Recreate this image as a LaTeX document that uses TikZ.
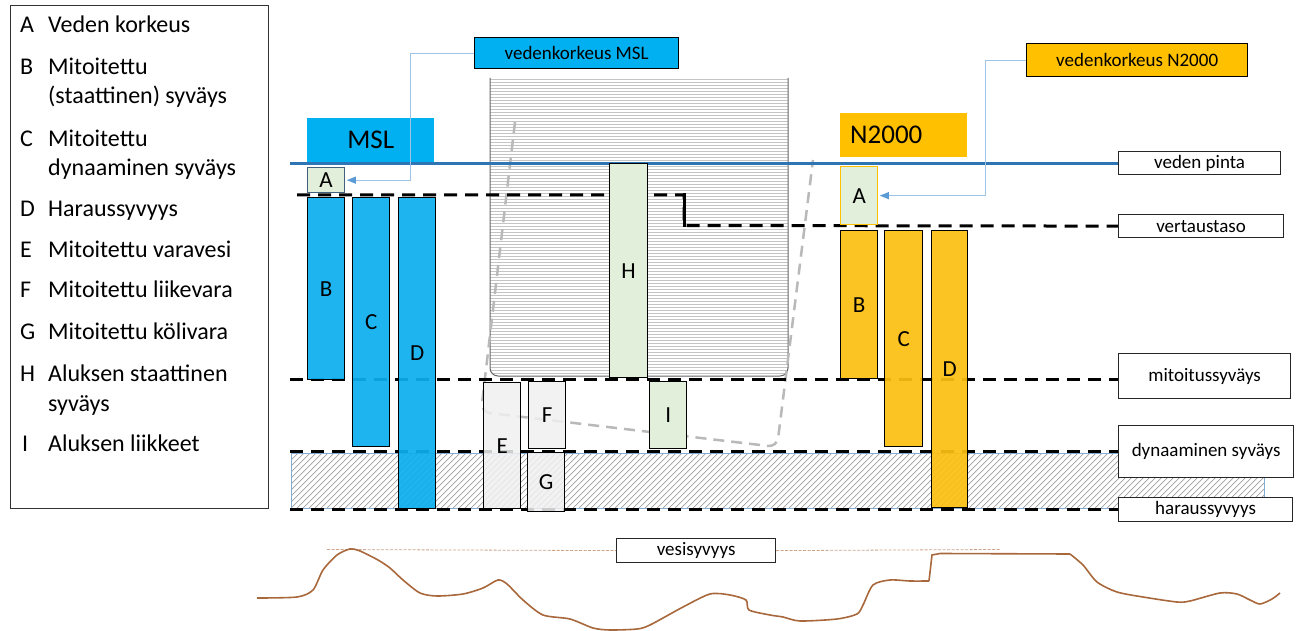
\documentclass[tikz,border=0pt]{standalone}
\usepackage{fontspec}
\setmainfont{Carlito}
\usetikzlibrary{arrows.meta}
\definecolor{mslblue}{HTML}{00B0F0}
\definecolor{mslbar}{HTML}{0CAEEE}
\definecolor{nyellow}{HTML}{FFC000}
\definecolor{nbar}{HTML}{FBBF12}
\definecolor{lgreen}{HTML}{E2EFDA}
\definecolor{waterline}{HTML}{2E75B6}
\definecolor{arrowblue}{HTML}{9DC3E6}
\definecolor{tipblue}{HTML}{5B9BD5}
\definecolor{lgray}{HTML}{F0F0F0}
\definecolor{terrain}{HTML}{A8683C}
\definecolor{aborder}{HTML}{44607F}
\definecolor{hullgray}{HTML}{C4C4C4}
\begin{document}
\begin{tikzpicture}[x=1pt,y=-1pt,
  sz/.style 2 args={minimum width=#1pt, minimum height=#2pt},
  box/.style={draw=black, line width=1.3pt, inner sep=0pt, anchor=north west, font=\fontsize{23}{26}\selectfont},
  mslbarbox/.style={box, fill=mslbar, fill opacity=0.93, text opacity=1},
  nbarbox/.style={box, fill=nbar, fill opacity=0.93, text opacity=1},
  greybox/.style={box, fill=lgray, fill opacity=0.85, text opacity=1},
  greenbox/.style={box, fill=lgreen},
  labelbox/.style={draw=black!85, line width=1.2pt, fill=white, inner sep=0pt, anchor=north west, font=\fontsize{19}{22}\selectfont},
  titlebox/.style={inner sep=0pt, anchor=north west, font=\fontsize{27}{30}\selectfont},
  legtxt/.style={anchor=base west, inner sep=0pt, font=\fontsize{24}{29}\selectfont},
  dline/.style={line width=3pt, dash pattern=on 13pt off 8pt, black},
  callout/.style={arrowblue, line width=1pt, -{Triangle[length=9pt,width=7pt,color=tipblue]}}
]
\useasboundingbox (0,0) rectangle (1296,631);

% ---------- legend ----------
\node[draw=black!80, line width=1.2pt, inner sep=0pt, anchor=north west, sz={258}{503}] (legend) at (10,5) {};
\node[legtxt] (lA) at (20,33) {A};  \node[legtxt] (tA) at (48,33) {Veden korkeus};
\node[legtxt] (lB) at (20,75) {B};  \node[legtxt] (tB1) at (48,75) {Mitoitettu};
\node[legtxt] (tB2) at (48,104) {(staattinen) syväys};
\node[legtxt] (lC) at (20,147) {C};  \node[legtxt] (tC1) at (48,147) {Mitoitettu};
\node[legtxt] (tC2) at (48,176) {dynaaminen syväys};
\node[legtxt] (lD) at (20,217) {D};  \node[legtxt] (tD) at (48,217) {Haraussyvyys};
\node[legtxt] (lE) at (20,258) {E};  \node[legtxt] (tE) at (48,258) {Mitoitettu varavesi};
\node[legtxt] (lF) at (20,298) {F};  \node[legtxt] (tF) at (48,298) {Mitoitettu liikevara};
\node[legtxt] (lG) at (20,339) {G};  \node[legtxt] (tG) at (48,339) {Mitoitettu kölivara};
\node[legtxt] (lH) at (20,381) {H};  \node[legtxt] (tH1) at (48,381) {Aluksen staattinen};
\node[legtxt] (tH2) at (48,411) {syväys};
\node[legtxt] (lI) at (22,451) {I};  \node[legtxt] (tI) at (48,451) {Aluksen liikkeet};

% ---------- hatched band ----------
\begin{scope}
  \clip (291,453) rectangle (1264,508);
  \foreach \i in {0,6,...,1040} {
    \draw[gray!75, line width=0.7pt] (291+\i-60,508) -- (291+\i,448);
  }
\end{scope}
\draw[waterline!60, line width=0.6pt] (291,453) rectangle (1264,508);

% ---------- ship hull ----------
\begin{scope}
  \clip[rounded corners=8pt] (490,70) -- (490,376) -- (788,376) -- (788,70) -- cycle;
  \foreach \y in {79,82,...,376} {
    \draw[hullgray, line width=0.9pt] (490,\y) -- (788,\y);
  }
\end{scope}
\draw[black!60, line width=1pt, rounded corners=8pt] (490,78) -- (490,376) -- (788,376) -- (788,78);
% tilted hull outline
\draw[gray!55, line width=2.5pt, dash pattern=on 11pt off 7pt, rounded corners=9pt]
  (515,122) -- (481,412) -- (777,447) -- (813,160);

% ---------- right labels ----------
\node[labelbox, sz={162}{23}] (vp) at (1118,151) {veden pinta};
\node[labelbox, sz={165}{23}] (vt) at (1118,214) {vertaustaso};
\node[labelbox, sz={172}{45}] (mit) at (1118,353) {mitoitussyväys};
\node[labelbox, sz={175}{52}] (dyn) at (1118,425) {dynaaminen syväys};
\node[labelbox, sz={174}{24}] (har) at (1118,497) {haraussyvyys};

% ---------- water surface and reference lines ----------
\coordinate (wpL) at (290,163.5);
\draw[waterline, line width=2.2pt] (wpL) -- (wpL -| vp.west);
\coordinate (vtL) at (297,195);
\coordinate (vtStep) at (684,195);
\draw[dline] (vtL) -- (vtStep) -- (684,225.5) -- (vt.west);
\draw[line width=3pt] (684,193.5) -- (684,227);
\coordinate (mitL) at (290,379);
\draw[dline] (mitL) -- (mitL -| mit.west);
\coordinate (dynL) at (290,451);
\draw[dline] (dynL) -- (dynL -| dyn.west);
\coordinate (harL) at (290,509);
\draw[dline] (harL) -- (harL -| har.west);

% ---------- MSL ----------
\node[titlebox, fill=mslblue, sz={127}{44}] (msl) at (307,118) {MSL};
\node[box, fill=mslblue, sz={204}{31}, font=\fontsize{19}{22}\selectfont] (vkmsl) at (474,37) {vedenkorkeus MSL};
\node[greenbox, draw=aborder, sz={37}{25}] (amsl) at (307,167) {A};
\node[mslbarbox, sz={37}{182}] (bmsl) at (307,197) {B};
\node[mslbarbox, sz={37}{249}] (cmsl) at (352,197) {C};
\node[mslbarbox, sz={37}{311}] (dmsl) at (398,197) {D};
\draw[callout] (vkmsl.west) -| ([xshift=65pt]amsl.east) -- ([xshift=1.5pt]amsl.east);

% ---------- ship boxes ----------
\node[greenbox, sz={38}{214}] (h) at (609,163) {H};
\node[greybox, sz={37}{126}] (e) at (483,382) {E};
\node[greybox, sz={37}{67}] (f) at (528,381) {F};
\node[greybox, sz={37}{59}] (g) at (527,452) {G};
\node[greenbox, sz={37}{67}] (i) at (649,381) {I};

% ---------- N2000 ----------
\node[titlebox, fill=nyellow, sz={127}{44}, anchor=north west, text width=107pt, align=left, inner xsep=10pt] (n2000) at (840,113) {N2000};
\node[box, fill=nyellow, sz={221}{33}, font=\fontsize{19}{22}\selectfont] (vkn) at (1026,43) {vedenkorkeus N2000};
\node[greenbox, draw=nyellow, sz={37}{58}] (an) at (840,166) {A};
\node[nbarbox, sz={37}{148}] (bn) at (840,230) {B};
\node[nbarbox, sz={38}{216}] (cn) at (884,230) {C};
\node[nbarbox, sz={36}{277}] (dn) at (931,230) {D};
\draw[callout] ([yshift=-0.5pt]vkn.west) -| ([xshift=107pt]an.east) -- ([xshift=1.5pt]an.east);

% ---------- water depth ----------
\node[labelbox, sz={159}{24}] (vs) at (616,538) {vesisyvyys};
\coordinate (vsL) at (327,549.5);
\coordinate (vsR) at (1000,549.5);
\draw[terrain!60, line width=0.8pt, dash pattern=on 3pt off 1.5pt] (vsL) -- (vs.west);
\draw[terrain!60, line width=0.8pt, dash pattern=on 3pt off 1.5pt] (vs.east) -- (vsR);
\draw[terrain, line width=1.6pt] plot[smooth, tension=0.45] coordinates {
 (257,598) (297,597) (313,590) (323,570) (337,555) (350,549) (360,551) (378,560) (390,568)
 (403,580) (420,593) (437,596) (463,594) (483,588) (498,580) (507,584) (523,600)
 (543,615) (570,619) (593,628) (610,630) (637,629) (650,625) (683,607) (710,594)
 (730,595) (746,600) (749,610) (770,615) (783,617) (800,621) (837,619) (857,614)
 (863,605) (873,585) (890,580) (910,581) (929,581)};
\draw[terrain, line width=1.6pt] (929,581) -- (932,555) -- (940,553.5) -- (1070,554);
\draw[terrain, line width=1.6pt] plot[smooth, tension=0.45] coordinates {
 (1070,554) (1083,565) (1097,582) (1117,592) (1143,597) (1177,602) (1190,601)
 (1220,593) (1237,594) (1250,600) (1260,604) (1272,599) (1280,593)};
\end{tikzpicture}
\end{document}
